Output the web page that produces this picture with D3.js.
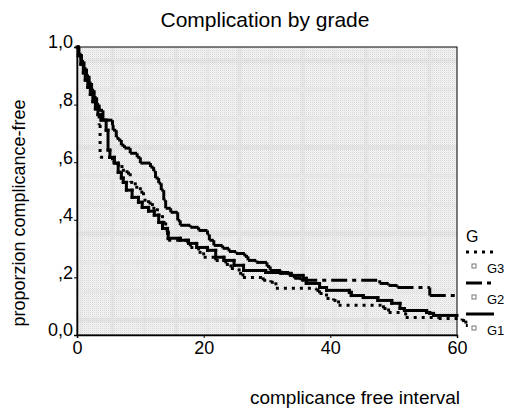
<!DOCTYPE html>
<html>
<head>
<meta charset="utf-8">
<script src="https://cdn.jsdelivr.net/npm/d3@7"></script>
<style>
  body { margin: 0; background: #fff; }
  svg { display: block; font-family: Arial, "Liberation Sans", sans-serif; }
</style>
</head>
<body>
<svg width="506" height="408"></svg>
<script>
// survival steps (time in months, proportion after the drop)
var g1Times = [0.2, 0.6, 1.0, 1.3, 1.7, 2.1, 2.5, 2.9, 3.3, 3.8, 4.6, 4.9, 5.2, 5.9, 6.5, 7.0, 7.3, 7.8, 8.7, 9.7, 10.3, 11.3, 12.2, 12.9, 13.5, 14.3, 14.4, 16.3, 17.6, 18.9, 20.6, 21.9, 23.2, 24.8, 26.3, 29.8, 32.2, 33.8, 35.7, 36.2, 38.3, 39.4, 43.0, 43.3, 45.2, 47.5, 49.7, 51.0, 51.7, 55.2, 55.7, 56.3];
var g1Values = [0.97, 0.94, 0.91, 0.885, 0.86, 0.835, 0.81, 0.785, 0.765, 0.746, 0.711, 0.642, 0.617, 0.597, 0.565, 0.545, 0.53, 0.503, 0.478, 0.461, 0.443, 0.43, 0.416, 0.391, 0.37, 0.353, 0.336, 0.329, 0.318, 0.304, 0.294, 0.27, 0.259, 0.242, 0.224, 0.217, 0.214, 0.207, 0.197, 0.179, 0.165, 0.155, 0.148, 0.137, 0.13, 0.12, 0.11, 0.092, 0.085, 0.078, 0.075, 0.068];
var g1End = 60;

var g2Times = [0.3, 0.7, 1.1, 1.5, 1.9, 2.3, 2.7, 3.1, 3.5, 4.1, 5.6, 5.7, 6.2, 6.5, 7.0, 7.5, 8.4, 9.5, 10.0, 11.6, 12.1, 12.4, 12.9, 13.3, 13.7, 14.0, 14.8, 15.9, 16.3, 17.9, 19.2, 20.6, 20.9, 21.6, 23.0, 24.0, 25.1, 26.5, 27.0, 28.3, 30.0, 30.5, 32.2, 33.5, 34.3, 35.4, 47.8, 49.2, 50.6, 55.7];
var g2Values = [0.975, 0.95, 0.925, 0.9, 0.875, 0.85, 0.825, 0.8, 0.78, 0.746, 0.729, 0.711, 0.687, 0.677, 0.659, 0.649, 0.631, 0.617, 0.597, 0.583, 0.569, 0.545, 0.527, 0.503, 0.468, 0.44, 0.426, 0.398, 0.381, 0.374, 0.363, 0.349, 0.329, 0.311, 0.301, 0.29, 0.283, 0.273, 0.259, 0.252, 0.238, 0.224, 0.217, 0.207, 0.197, 0.19, 0.179, 0.172, 0.165, 0.137];
var g2End = 60.3;

var g3Times = [0.25, 0.65, 1.05, 1.45, 1.85, 2.25, 2.65, 3.05, 3.5, 3.65, 5.6, 6.35, 7.1, 7.9, 8.4, 9.2, 10.0, 10.5, 11.3, 11.9, 12.7, 13.5, 14.0, 14.4, 17.5, 17.9, 19.2, 20.0, 21.9, 23.5, 24.3, 25.6, 26.2, 29.4, 30.6, 31.4, 37.8, 38.3, 39.4, 40.5, 41.3, 48.4, 49.2, 51.9, 57.1, 60.8, 61.4];
var g3Values = [0.97, 0.945, 0.92, 0.895, 0.87, 0.845, 0.82, 0.79, 0.729, 0.617, 0.6, 0.59, 0.572, 0.562, 0.53, 0.513, 0.496, 0.468, 0.458, 0.44, 0.416, 0.391, 0.363, 0.329, 0.318, 0.304, 0.287, 0.27, 0.259, 0.245, 0.231, 0.214, 0.2, 0.19, 0.183, 0.162, 0.155, 0.144, 0.127, 0.12, 0.103, 0.092, 0.078, 0.061, 0.057, 0.05, 0.033];
var g3End = 61.7;

var groupNames = ["G3", "G2", "G1"];
var xTicks = [0, 20, 40, 60];
var yTicks = [0, 0.2, 0.4, 0.6, 0.8, 1.0];
var yTickLabels = ["0,0", ",2", ",4", ",6", ",8", "1,0"];

var svg = d3.select("svg");

var x = d3.scaleLinear().domain([0, 60]).range([77, 457]);
var y = d3.scaleLinear().domain([0, 1]).range([335, 47]);

// halftone background of the plot area
var defs = svg.append("defs");
var pat = defs.append("pattern")
  .attr("id", "dots")
  .attr("width", 2).attr("height", 2)
  .attr("patternUnits", "userSpaceOnUse");
pat.append("rect").attr("width", 2).attr("height", 2).attr("fill", "#f7f7f7");
pat.append("rect").attr("width", 1).attr("height", 1).attr("fill", "#d6d6d6");
pat.append("rect").attr("x", 1).attr("y", 1).attr("width", 1).attr("height", 1).attr("fill", "#e6e6e6");

svg.append("rect")
  .attr("x", x(0)).attr("y", y(1))
  .attr("width", x(60) - x(0)).attr("height", y(0) - y(1))
  .attr("fill", "url(#dots)");

// faint grid bands like the original shading
var band = svg.append("g").attr("opacity", 0.25);
d3.range(0, 60, 5).forEach(function(v, i) {
  band.append("rect")
    .attr("x", x(v) + 2).attr("y", y(1))
    .attr("width", 4).attr("height", y(0) - y(1))
    .attr("fill", i % 2 ? "#cfcfcf" : "#dedede");
});
d3.range(0.05, 1, 0.1).forEach(function(v, i) {
  band.append("rect")
    .attr("x", x(0)).attr("y", y(v) - 3)
    .attr("width", x(60) - x(0)).attr("height", 5)
    .attr("fill", i % 3 ? "#dcdcdc" : "#c8c8c8");
});

// frame
svg.append("rect")
  .attr("x", x(0)).attr("y", y(1))
  .attr("width", x(60) - x(0)).attr("height", y(0) - y(1))
  .attr("fill", "none").attr("stroke", "#000").attr("stroke-width", 1);

// axes
var xAxis = svg.append("g")
  .attr("transform", "translate(0," + y(0) + ")")
  .call(d3.axisBottom(x).tickValues(xTicks).tickSize(3).tickFormat(d3.format("d")));
xAxis.select(".domain").attr("stroke-width", 1.5);
xAxis.selectAll("text").attr("font-size", 18).attr("dy", "0.72em").attr("fill", "#000");

var yAxis = svg.append("g")
  .attr("transform", "translate(" + x(0) + ",0)")
  .call(d3.axisLeft(y).tickValues(yTicks).tickSize(3)
    .tickFormat(function(d, i) { return yTickLabels[i]; }));
yAxis.select(".domain").attr("stroke-width", 1.5);
yAxis.selectAll("text").attr("font-size", 18).attr("dy", "0.05em").attr("x", -4).attr("fill", "#000");

// build the step segments of one curve
function stepSegments(times, values, end) {
  var segs = [];
  var t0 = 0, s0 = 1;
  for (var i = 0; i < times.length; i++) {
    segs.push([t0, s0, times[i], s0]);
    segs.push([times[i], s0, times[i], values[i]]);
    t0 = times[i];
    s0 = values[i];
  }
  segs.push([t0, s0, end, s0]);
  return segs;
}

function drawCurve(times, values, end, dash) {
  var g = svg.append("g");
  g.selectAll("line")
    .data(stepSegments(times, values, end))
    .enter()
    .append("line")
    .attr("x1", function(d) { return x(d[0]); })
    .attr("y1", function(d) { return y(d[1]); })
    .attr("x2", function(d) { return x(d[2]); })
    .attr("y2", function(d) { return y(d[3]); })
    .attr("stroke", "#000")
    .attr("stroke-width", 3)
    .attr("stroke-linecap", dash ? "butt" : "square")
    .attr("stroke-dasharray", dash);
}

drawCurve(g3Times, g3Values, g3End, "3,5");
drawCurve(g2Times, g2Values, g2End, "16,5,4,5");
drawCurve(g1Times, g1Values, g1End, null);

// title and axis labels
svg.append("text")
  .attr("x", 265).attr("y", 27)
  .attr("text-anchor", "middle")
  .attr("font-size", 21)
  .text("Complication by grade");

svg.append("text")
  .attr("x", 355).attr("y", 404)
  .attr("text-anchor", "middle")
  .attr("font-size", 19)
  .text("complicance free interval");

svg.append("text")
  .attr("transform", "translate(25,213) rotate(-90)")
  .attr("text-anchor", "middle")
  .attr("font-size", 18)
  .text("proporzion complicance-free");

// legend
var legend = svg.append("g").attr("transform", "translate(466,0)");
legend.append("text").attr("x", 0).attr("y", 242).attr("font-size", 16).text("G");

var dashes = ["3,5", "16,5,4,5", null];
groupNames.forEach(function(name, i) {
  var ly = 252 + i * 31;
  legend.append("line")
    .attr("x1", 0).attr("x2", 28)
    .attr("y1", ly).attr("y2", ly)
    .attr("stroke", "#000").attr("stroke-width", 3)
    .attr("stroke-dasharray", dashes[i]);
  legend.append("rect")
    .attr("x", 6).attr("y", ly + 12)
    .attr("width", 4).attr("height", 4)
    .attr("fill", "#fff").attr("stroke", "#777").attr("stroke-width", 1);
  legend.append("text")
    .attr("x", 21).attr("y", ly + 21)
    .attr("font-size", 13)
    .text(name);
});
</script>
</body>
</html>
